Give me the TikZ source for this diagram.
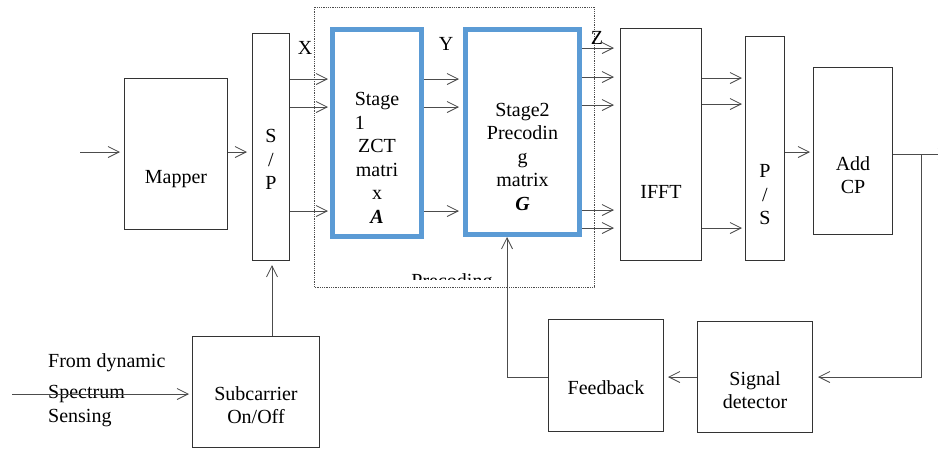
\documentclass[tikz,border=0pt]{standalone}
\usepackage{fontspec}
\setmainfont{LiberationSerif}[Extension=.ttf, UprightFont=*-Regular, BoldFont=*-Bold, ItalicFont=*-Italic, BoldItalicFont=*-BoldItalic]
\usetikzlibrary{arrows.meta}
\definecolor{stageblue}{RGB}{91,155,213}
\begin{document}
\begin{tikzpicture}[x=1pt,y=-1pt,
  every node/.style={font=\fontsize{20}{23.5}\selectfont},
  block/.style={draw=black!80, line width=1pt, inner sep=0pt},
  stagebox/.style={draw=stageblue, line width=5pt, inner sep=0pt},
  txt/.style={align=center, inner sep=0pt},
  wire/.style={black!70, line width=0.8pt},
  >={Straight Barb[length=11pt,width=11pt]}]
\useasboundingbox (0,0) rectangle (938,451);
\draw[wire, densely dotted] (314,7) rectangle (594,287);
\begin{scope}
\clip (314,7) rectangle (594,279);
\node[anchor=base] (precoding) at (452,287) {Precoding};
\end{scope}
\node[block, minimum width=103pt, minimum height=151pt, label={[txt,yshift=-25pt]center:Mapper}] (mapper) at (176,154) {};
\node[block, minimum width=37pt, minimum height=227pt, label={[txt,yshift=-12.5pt]center:{S\\/\\P}}] (sp) at (271,147) {};
\node[stagebox, minimum width=89pt, minimum height=207pt, label={[txt,yshift=-25pt]center:{Stage\\\rlap{1}\phantom{Stage}\\ZCT\\matri\\x\\\textbf{\textit{A}}}}] (stage1) at (377,133) {};
\node[stagebox, minimum width=114pt, minimum height=205pt, label={[txt,yshift=-24.5pt]center:{Stage2\\Precodin\\g\\matrix\\\textbf{\textit{G}}}}] (stage2) at (522.5,132) {};
\node[block, minimum width=81pt, minimum height=232pt, label={[txt,yshift=-47.5pt]center:IFFT}] (ifft) at (661,144.5) {};
\node[block, minimum width=39pt, minimum height=224pt, label={[txt,yshift=-46.5pt]center:{P\\/\\S}}] (ps) at (765,148.5) {};
\node[block, minimum width=79pt, minimum height=167pt, label={[txt,yshift=-24pt]center:{Add\\CP}}] (addcp) at (853,151) {};
\node[block, minimum width=127pt, minimum height=111pt, label={[txt,yshift=-13pt]center:{Subcarrier\\On/Off}}] (subcarrier) at (256,392) {};
\node[block, minimum width=115pt, minimum height=112pt, label={[txt,yshift=-12.5pt]center:Feedback}] (feedback) at (606,375.5) {};
\node[block, minimum width=115pt, minimum height=111pt, label={[txt,yshift=-13pt]center:{Signal\\detector}}] (signal) at (755,377) {};
\node[align=left, anchor=west, inner sep=0pt] (sensing) at (48,390) {From dynamic\\[8pt]Spectrum\\Sensing};
\node (xlab) at (305,48) {X};
\node (ylab) at (446,44) {Y};
\node (zlab) at (597,38) {Z};
\coordinate (src) at (80,152);
\coordinate (dss) at (12,394);
\coordinate (out) at (950,154);
\coordinate (tap) at (921,154);
\draw[wire,->,shorten >=4pt] (src) -- (mapper.west |- src);
\draw[wire,->,shorten >=5pt] (mapper.east |- src) -- (sp.west |- src);
\foreach \y in {79,107,211}
  \draw[wire,->,shorten >=2pt] (sp.east |- 0,\y) -- (stage1.west |- 0,\y);
\foreach \y in {79,107,211}
  \draw[wire,->,shorten >=4pt] (stage1.east |- 0,\y) -- (stage2.west |- 0,\y);
\foreach \y in {48,77,105,210,228}
  \draw[wire,->,shorten >=6pt] (stage2.east |- 0,\y) -- (ifft.west |- 0,\y);
\foreach \y in {78,104,228}
  \draw[wire,->,shorten >=3pt] (ifft.east |- 0,\y) -- (ps.west |- 0,\y);
\draw[wire,->,shorten >=3pt] (ps.east |- 0,152) -- (addcp.west |- 0,152);
\draw[wire,->] (addcp.east |- out) -- (out);
\draw[wire,->,shorten >=5pt] (tap) |- (signal.east |- 0,377);
\draw[wire,->,shorten >=4pt] (signal.west |- 0,377) -- (feedback.east |- 0,377);
\draw[wire,->] (feedback.west |- 0,377) -| (stage2.south -| 507,0);
\draw[wire,->,shorten >=4pt] (subcarrier.north -| 272,0) -- (sp.south -| 272,0);
\draw[wire,->,shorten >=3pt] (dss) -- (subcarrier.west |- dss);
\end{tikzpicture}
\end{document}
